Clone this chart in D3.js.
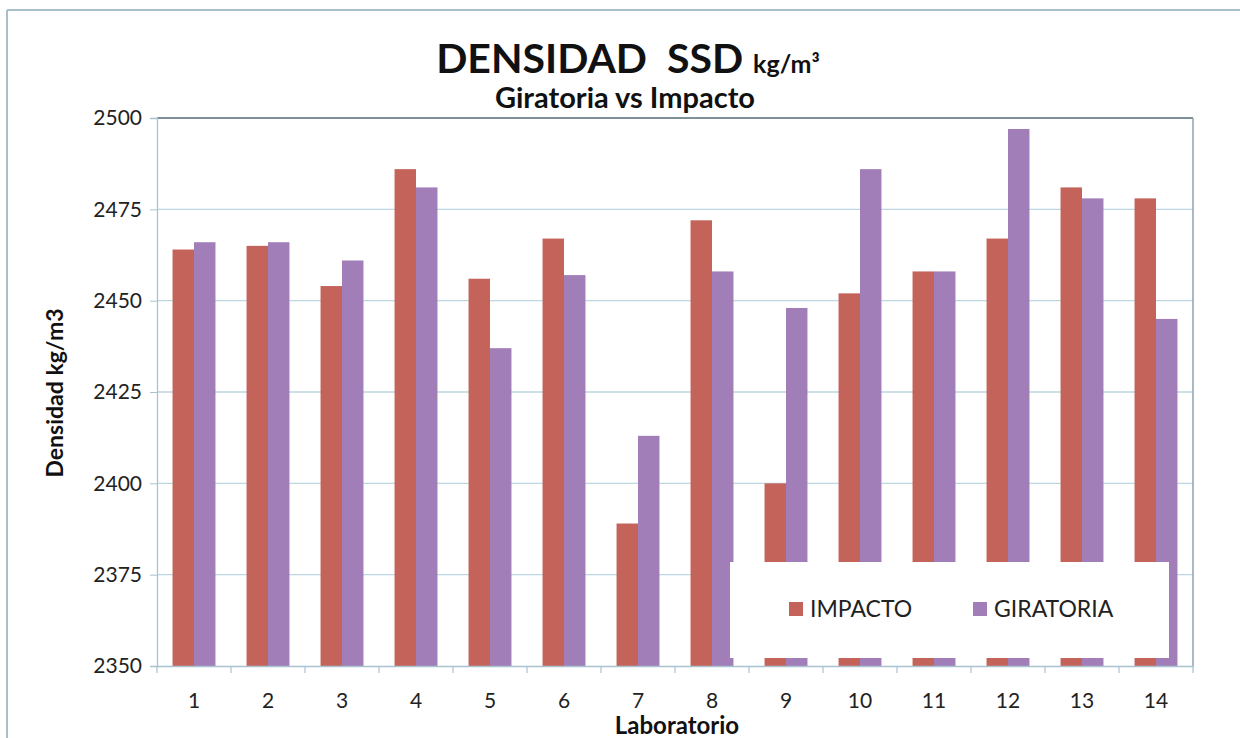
<!DOCTYPE html>
<html><head><meta charset="utf-8">
<script src="https://cdn.jsdelivr.net/npm/d3@7/dist/d3.min.js"></script>
<style>html,body{margin:0;padding:0;background:#fff;}svg{display:block;font-family:Lato,"Open Sans",sans-serif;}</style>
</head><body><svg id="c" width="1240" height="738"></svg>
<script>
const categories = ["1","2","3","4","5","6","7","8","9","10","11","12","13","14"];
const impacto   = [2464,2465,2454,2486,2456,2467,2389,2472,2400,2452,2458,2467,2481,2478];
const giratoria = [2466,2466,2461,2481,2437,2457,2413,2458,2448,2486,2458,2497,2478,2445];
const yTicks = [2350,2375,2400,2425,2450,2475,2500];
const seriesNames = ["IMPACTO","GIRATORIA"];
const colors = ["#c4635a","#a27eb9"];

const svg = d3.select("#c");
const m = {left:157, right:1193, top:118, bottom:666};

// outer frame
svg.append("line").attr("x1",7).attr("x2",1240).attr("y1",10).attr("y2",10).attr("stroke","#a9bfcc").attr("stroke-width",2);
svg.append("line").attr("x1",7).attr("x2",7).attr("y1",10).attr("y2",738).attr("stroke","#a9bfcc").attr("stroke-width",2);

const x = d3.scaleBand().domain(categories).range([m.left,m.right]).paddingInner(0.42).paddingOuter(0.21);
const x1 = d3.scaleBand().domain([0,1]).range([0,x.bandwidth()]);
const y = d3.scaleLinear().domain([2350,2500]).range([m.bottom,m.top]);

// gridlines
svg.append("g").selectAll("line").data(yTicks.slice(1)).join("line")
  .attr("x1",m.left).attr("x2",m.right).attr("y1",d=>y(d)).attr("y2",d=>y(d))
  .attr("stroke",d=>d===2500?"#7f9099":"#bcd6e2").attr("stroke-width",d=>d===2500?2:1.3);
// right border
svg.append("line").attr("x1",m.right).attr("x2",m.right).attr("y1",m.top).attr("y2",m.bottom).attr("stroke","#8fa2ad").attr("stroke-width",1.5);

// bars
const data = categories.map((c,i)=>({c, v:[impacto[i],giratoria[i]]}));
const g = svg.append("g");
g.selectAll("g").data(data).join("g").attr("transform",d=>`translate(${x(d.c)},0)`)
  .selectAll("rect").data(d=>d.v.map((v,k)=>({v,k}))).join("rect")
  .attr("x",d=>x1(d.k)).attr("width",x1.bandwidth())
  .attr("y",d=>y(d.v)).attr("height",d=>y(2350)-y(d.v))
  .attr("fill",d=>colors[d.k]);

// y axis
const ya = svg.append("g").attr("transform",`translate(${m.left},0)`)
  .call(d3.axisLeft(y).tickValues(yTicks).tickSize(7).tickPadding(8).tickFormat(d3.format("d")));
ya.select(".domain").attr("stroke","#a9c2cf").attr("stroke-width",1.3);
ya.selectAll(".tick line").attr("stroke","#a9c2cf");
ya.selectAll("text").attr("font-size",21).attr("fill","#222").attr("font-family","Lato");

// x axis
const xa = svg.append("g").attr("transform",`translate(0,${m.bottom})`)
  .call(d3.axisBottom(x).tickSize(0).tickPadding(27));
xa.select(".domain").attr("stroke","#a9c2cf").attr("stroke-width",1.3);
xa.selectAll("text").attr("font-size",21).attr("fill","#222").attr("font-family","Lato");
const step = x.step();
xa.selectAll("line.sep").data(d3.range(categories.length+1)).join("line").attr("class","sep")
  .attr("x1",i=>m.left+i*step).attr("x2",i=>m.left+i*step).attr("y1",0).attr("y2",7)
  .attr("stroke","#a9c2cf").attr("stroke-width",1.2);

// legend (drawn over bars)
const lg = svg.append("g");
lg.append("rect").attr("x",730).attr("y",562).attr("width",439).attr("height",96).attr("fill","#fff");
const lx = [789, 973];
seriesNames.forEach((n,i)=>{
  lg.append("rect").attr("x",lx[i]).attr("y",602).attr("width",14).attr("height",14).attr("fill",colors[i]);
  lg.append("text").attr("x",lx[i]+21).attr("y",617).attr("font-size",23).attr("fill","#222").text(n);
});

// titles
const t = svg.append("text").attr("x",628).attr("y",73).attr("text-anchor","middle").attr("font-weight","bold").attr("fill","#111");
t.append("tspan").attr("font-size",41).text("DENSIDAD\u00a0\u00a0SSD ");
t.append("tspan").attr("font-size",25).text("kg/m³");
svg.append("text").attr("x",625).attr("y",108).attr("text-anchor","middle").attr("font-weight","bold").attr("font-size",29).attr("fill","#111").text("Giratoria vs Impacto");
svg.append("text").attr("transform","translate(63,393) rotate(-90)").attr("text-anchor","middle").attr("font-weight","bold").attr("font-size",23).attr("fill","#111").text("Densidad kg/m3");
svg.append("text").attr("x",677).attr("y",734).attr("text-anchor","middle").attr("font-weight","bold").attr("font-size",24).attr("fill","#111").text("Laboratorio");
</script></body></html>
